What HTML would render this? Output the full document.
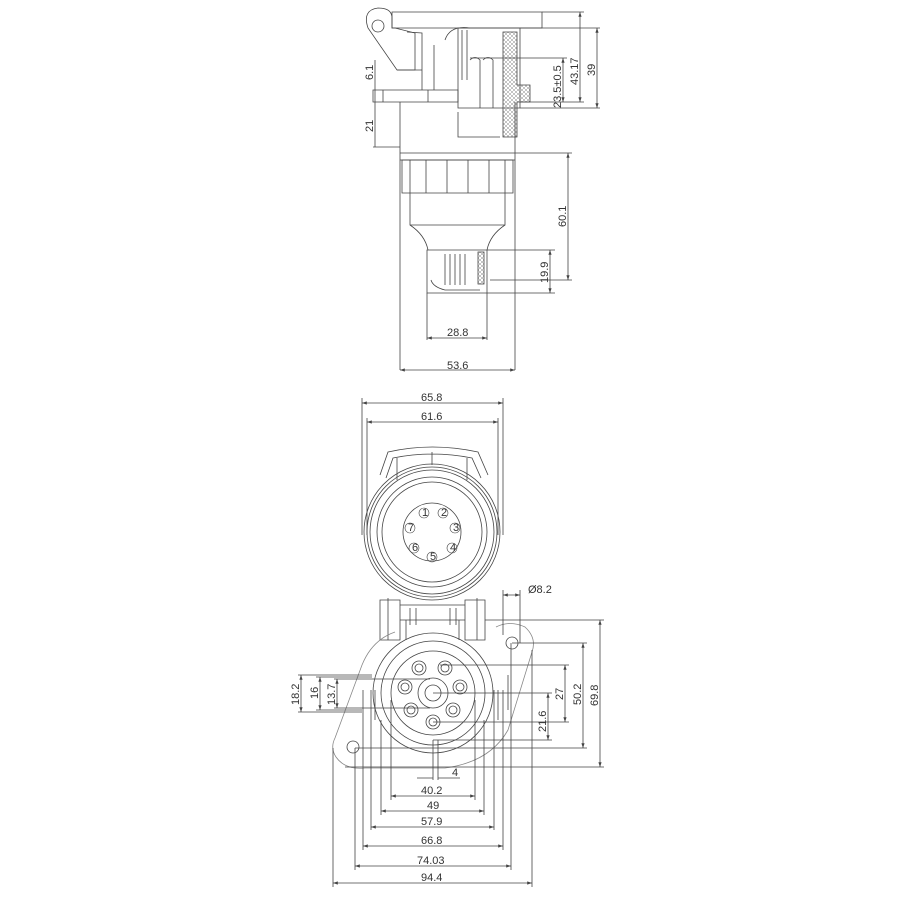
<!DOCTYPE html><html><head><style>body{margin:0;background:#fff}svg{display:block}text{font-family:"Liberation Sans",sans-serif;font-size:11px;fill:#333}</style></head><body>
<svg width="900" height="900" viewBox="0 0 900 900" fill="none" stroke="#444" stroke-width="0.8">
<defs><pattern id="h" width="4" height="4" patternUnits="userSpaceOnUse"><path d="M0 0L4 4M4 0L0 4" stroke="#888" stroke-width="0.5"/></pattern>
<marker id="a" markerWidth="6" markerHeight="6" refX="6" refY="3" orient="auto-start-reverse"><path d="M0 1L6 3L0 5" fill="#444" stroke="none"/></marker></defs>
<!-- TOP VIEW -->
<path d="M392 12H542V28H392Z"/><path d="M368 28Q362 10 378 8Q392 8 392 18L392 28L395 28L415 33L415 70L397 70Z" />
<circle cx="378" cy="26" r="6"/>
<path d="M397 70L422 70M407 32L422 33L422 90M434 45L434 90M445 40Q450 25 470 28"/>
<path d="M373 90H458V102H373Z"/><path d="M383 90V102M428 90V102"/>
<path d="M458 28H520V108H458Z"/><path d="M462 30V80M467 30V80M470 60Q475 55 480 60V108M483 60Q488 55 493 60V108"/>
<path d="M503 32H517V85H530V102H517V137H503Z" fill="url(#h)"/>
<path d="M458 112V137H500"/>
<path d="M400 102V150M515 102V150M400 153H515M400 160H515M400 150V370M515 150V370"/>
<path d="M402 160H513V193H402Z"/><path d="M410 160V193M426 160V193M447 160V193M468 160V193M489 160V193M505 160V193"/>
<path d="M410 193V225H505V193M410 225Q425 235 428 250M505 225Q490 235 487 250"/>
<path d="M427 250H487V293H427Z"/><path d="M431 280Q433 287 445 290H480M445 254V285M450 254V285M455 254V285M460 254V285M465 254V285"/>
<rect x="478" y="252" width="6" height="32" fill="url(#h)"/>
<path d="M427 293V340M487 293V340"/>
<line x1="427" y1="338" x2="487" y2="338" marker-start="url(#a)" marker-end="url(#a)"/><text x="447" y="336" stroke="none">28.8</text>
<line x1="400" y1="370" x2="515" y2="370" marker-start="url(#a)" marker-end="url(#a)"/><text x="447" y="369" stroke="none">53.6</text>
<path d="M515 153H572M490 280H572M487 250H555M487 293H555"/>
<line x1="568" y1="153" x2="568" y2="280" marker-start="url(#a)" marker-end="url(#a)"/>
<line x1="550" y1="250" x2="550" y2="293" marker-start="url(#a)" marker-end="url(#a)"/>
<text transform="translate(566 227) rotate(-90)" stroke="none">60.1</text>
<text transform="translate(548 283) rotate(-90)" stroke="none">19.9</text>
<path d="M542 12H584M520 28H600M470 58H567M520 102H584M520 108H600"/>
<line x1="580" y1="12" x2="580" y2="102" marker-start="url(#a)" marker-end="url(#a)"/>
<line x1="597" y1="28" x2="597" y2="108" marker-start="url(#a)" marker-end="url(#a)"/>
<line x1="563" y1="58" x2="563" y2="102" marker-start="url(#a)" marker-end="url(#a)"/>
<text transform="translate(578 85) rotate(-90)" stroke="none">43.17</text>
<text transform="translate(595 76) rotate(-90)" stroke="none">39</text>
<text transform="translate(561 108) rotate(-90)" stroke="none">23.5±0.5</text>
<path d="M373 147H400"/><line x1="375" y1="60" x2="375" y2="147"/>
<text transform="translate(373 80) rotate(-90)" stroke="none">6.1</text>
<text transform="translate(373 132) rotate(-90)" stroke="none">21</text>
<!-- FRONT VIEW -->
<path d="M362 398V535M503 398V535M367 418V535M498 418V535"/>
<line x1="362" y1="403" x2="503" y2="403" marker-start="url(#a)" marker-end="url(#a)"/><text x="421" y="401" stroke="none">65.8</text>
<line x1="367" y1="422" x2="498" y2="422" marker-start="url(#a)" marker-end="url(#a)"/><text x="421" y="420" stroke="none">61.6</text>
<path d="M380 475L388 452Q432 442 478 452L488 475M386 478L393 458Q432 450 472 458L481 478M397 458V480M467 458V480M432 452V465"/>
<circle cx="432" cy="532" r="68"/><circle cx="432" cy="532" r="65"/><circle cx="432" cy="532" r="62"/><circle cx="432" cy="532" r="55"/><circle cx="432" cy="532" r="50"/><circle cx="432" cy="532" r="29"/>
<g stroke-width="0.6"><circle cx="424" cy="513" r="5"/><circle cx="443" cy="513" r="5"/><circle cx="455" cy="528" r="5"/><circle cx="452" cy="548" r="5"/><circle cx="432" cy="557" r="5"/><circle cx="414" cy="548" r="5"/><circle cx="410" cy="528" r="5"/></g>
<g stroke="none" style="font-size:7px"><text x="422" y="516">1</text><text x="441" y="516">2</text><text x="453" y="531">3</text><text x="450" y="551">4</text><text x="430" y="560">5</text><text x="412" y="551">6</text><text x="408" y="531">7</text></g>
<!-- BOTTOM VIEW -->
<path d="M380 600H400V640H380ZM465 600H485V640H465ZM388 598V640M477 598V640M400 605H465M400 620H465M406 620V640M459 620V640"/>
<path d="M410 608V625M416 608V625M450 608V625M456 608V625"/>
<path d="M496 627Q510 620 525 627Q537 638 532 652L508 730Q490 762 445 768L365 768Q345 770 336 757Q330 748 335 738L362 665Q372 640 395 632" stroke="#888"/>
<circle cx="512" cy="643" r="6"/><circle cx="353" cy="747" r="6"/>
<circle cx="433" cy="693" r="60"/><circle cx="433" cy="693" r="52"/><circle cx="433" cy="693" r="42"/><circle cx="433" cy="693" r="15"/><circle cx="433" cy="693" r="8"/>
<g><circle cx="419" cy="668" r="7"/><circle cx="419" cy="668" r="4"/><circle cx="445" cy="668" r="7"/><circle cx="445" cy="668" r="4"/><circle cx="460" cy="687" r="7"/><circle cx="460" cy="687" r="4"/><circle cx="453" cy="710" r="7"/><circle cx="453" cy="710" r="4"/><circle cx="433" cy="722" r="7"/><circle cx="433" cy="722" r="4"/><circle cx="411" cy="710" r="7"/><circle cx="411" cy="710" r="4"/><circle cx="405" cy="687" r="7"/><circle cx="405" cy="687" r="4"/></g>
<path d="M371 690V720M375 690V720M494 690V720M498 690V720M508 675V710"/>
<path d="M503 590V635M520 590V643M485 620H604M512 643H587M440 665H569M433 693H552M433 722H569M433 740H552M355 748H587M345 767H604"/>
<line x1="503" y1="595" x2="520" y2="595" marker-start="url(#a)" marker-end="url(#a)"/><text x="528" y="593" stroke="none">Ø8.2</text>
<line x1="600" y1="620" x2="600" y2="767" marker-start="url(#a)" marker-end="url(#a)"/>
<line x1="583" y1="643" x2="583" y2="748" marker-start="url(#a)" marker-end="url(#a)"/>
<line x1="565" y1="665" x2="565" y2="722" marker-start="url(#a)" marker-end="url(#a)"/>
<line x1="548" y1="693" x2="548" y2="740" marker-start="url(#a)" marker-end="url(#a)"/>
<text transform="translate(598 706) rotate(-90)" stroke="none">69.8</text>
<text transform="translate(581 705) rotate(-90)" stroke="none">50.2</text>
<text transform="translate(563 700) rotate(-90)" stroke="none">27</text>
<text transform="translate(546 732) rotate(-90)" stroke="none">21.6</text>
<path d="M298 675H372M316 677H372M334 679H430M298 712H362M316 710H362M334 708H430"/>
<line x1="301" y1="675" x2="301" y2="712" marker-start="url(#a)" marker-end="url(#a)"/>
<line x1="320" y1="677" x2="320" y2="710" marker-start="url(#a)" marker-end="url(#a)"/>
<line x1="337" y1="679" x2="337" y2="708" marker-start="url(#a)" marker-end="url(#a)"/>
<text transform="translate(299 705) rotate(-90)" stroke="none">18.2</text>
<text transform="translate(318 699) rotate(-90)" stroke="none">16</text>
<text transform="translate(335 705) rotate(-90)" stroke="none">13.7</text>
<path d="M433 740V780M438 740V780M391 700V800M475 700V800M381 720V815M484 720V815M371 720V830M494 720V830M363 690V850M503 690V850M355 748V870M511 643V870M333 748V887M532 650V887"/>
<path d="M417 778H433M438 778H460"/><text x="452" y="776" stroke="none">4</text>
<line x1="391" y1="796" x2="475" y2="796" marker-start="url(#a)" marker-end="url(#a)"/><text x="421" y="794" stroke="none">40.2</text>
<line x1="381" y1="811" x2="484" y2="811" marker-start="url(#a)" marker-end="url(#a)"/><text x="427" y="809" stroke="none">49</text>
<line x1="371" y1="827" x2="494" y2="827" marker-start="url(#a)" marker-end="url(#a)"/><text x="421" y="825" stroke="none">57.9</text>
<line x1="363" y1="846" x2="503" y2="846" marker-start="url(#a)" marker-end="url(#a)"/><text x="421" y="844" stroke="none">66.8</text>
<line x1="355" y1="866" x2="511" y2="866" marker-start="url(#a)" marker-end="url(#a)"/><text x="417" y="864" stroke="none">74.03</text>
<line x1="333" y1="883" x2="532" y2="883" marker-start="url(#a)" marker-end="url(#a)"/><text x="421" y="881" stroke="none">94.4</text>
</svg></body></html>
